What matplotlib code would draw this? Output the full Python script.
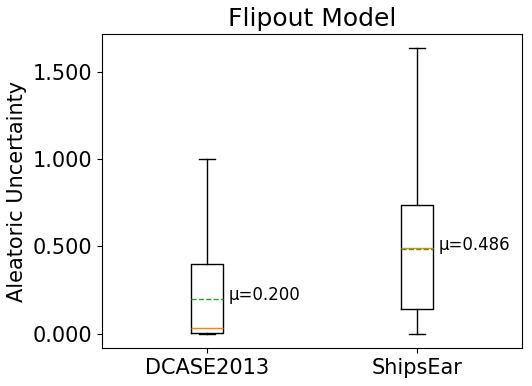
import matplotlib
matplotlib.use("Agg")
import matplotlib.pyplot as plt
from matplotlib.ticker import FormatStrFormatter

categories = ["DCASE2013", "ShipsEar"]
whislo = [0.0, 0.0]
q1 = [0.005, 0.143]
medians = [0.035, 0.489]
means = [0.200, 0.486]
q3 = [0.400, 0.737]
whishi = [1.000, 1.634]

stats = []
for i, c in enumerate(categories):
    stats.append(dict(label=c, whislo=whislo[i], q1=q1[i], med=medians[i],
                      mean=means[i], q3=q3[i], whishi=whishi[i], fliers=[]))

fig = plt.figure(figsize=(5.32, 3.86), dpi=100)
ax = fig.add_axes([0.192, 0.0984, 0.789, 0.8136])
ax.bxp(stats, showmeans=True, meanline=True, widths=0.15, showfliers=False)
for i, m in enumerate(means):
    ax.annotate(f"μ={m:.3f}", xy=(i + 1 + 0.105, m), xytext=(0, 3),
                textcoords="offset points", fontsize=12, va="center", ha="left")
ax.yaxis.set_major_formatter(FormatStrFormatter("%.3f"))
ax.set_yticks([0, 0.5, 1.0, 1.5])
ax.tick_params(labelsize=15)
ax.set_ylabel("Aleatoric Uncertainty", fontsize=15)
ax.set_title("Flipout Model", fontsize=18)
fig.savefig("out.png", dpi=100)
